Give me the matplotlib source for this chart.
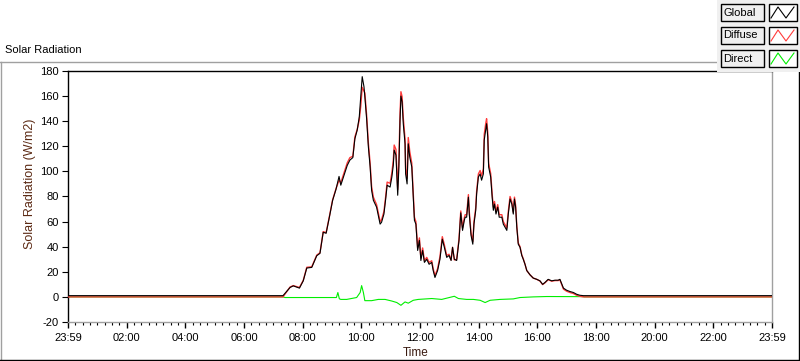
import matplotlib
matplotlib.use('Agg')
import matplotlib.pyplot as plt
from matplotlib.lines import Line2D
from matplotlib.patches import Rectangle

plt.rcParams['font.family'] = ['Liberation Sans', 'DejaVu Sans']
plt.rcParams['axes.unicode_minus'] = False

# time of day in hours (0 = 23:59 previous day, 24 = 23:59)
hours = [0, 7.33, 7.57, 7.68, 7.89, 8.02, 8.14, 8.31, 8.48, 8.59,
         8.70, 8.80, 8.91, 9.02, 9.14, 9.24, 9.30, 9.39, 9.52, 9.61,
         9.71, 9.78, 9.86, 9.93, 9.98, 10.03, 10.09, 10.12, 10.18, 10.24,
         10.30, 10.35, 10.41, 10.52, 10.64, 10.69, 10.77, 10.83, 10.88, 10.98,
         11.04, 11.09, 11.12, 11.18, 11.24, 11.28, 11.32, 11.35, 11.39, 11.43,
         11.49, 11.51, 11.56, 11.60, 11.65, 11.72, 11.77, 11.81, 11.86, 11.92,
         11.98, 12.03, 12.09, 12.15, 12.23, 12.31, 12.40, 12.45, 12.51, 12.60,
         12.68, 12.76, 12.83, 12.91, 12.99, 13.06, 13.11, 13.17, 13.25, 13.33,
         13.39, 13.45, 13.51, 13.54, 13.59, 13.65, 13.68, 13.74, 13.80, 13.84,
         13.90, 13.93, 13.99, 14.05, 14.10, 14.16, 14.19, 14.24, 14.27, 14.31,
         14.34, 14.41, 14.46, 14.50, 14.54, 14.59, 14.65, 14.70, 14.79, 14.84,
         14.90, 14.96, 15.01, 15.07, 15.13, 15.18, 15.22, 15.26, 15.30, 15.35,
         15.41, 15.47, 15.52, 15.58, 15.64, 15.75, 15.86, 15.98, 16.09, 16.18,
         16.26, 16.37, 16.49, 16.60, 16.71, 16.77, 16.83, 16.89, 17.00, 17.11,
         17.23, 17.34, 17.45, 17.57, 24]

global_rad = [1.0, 1.0, 7.5, 8.8, 7.0, 12.8, 23.0, 23.5, 32.8, 34.7,
              51.5, 50.7, 63.5, 76.8, 86.0, 96.0, 89.0, 95.5, 104.8, 109.0,
              111.0, 126.0, 133.0, 143.5, 159.0, 175.5, 167.5, 159.5, 142.0, 119.5,
              103.5, 85.0, 77.0, 71.5, 58.0, 59.5, 66.0, 78.0, 89.0, 87.5,
              95.5, 105.0, 117.0, 113.0, 81.0, 103.5, 141.0, 160.0, 155.5, 138.0,
              122.0, 98.0, 90.0, 122.0, 111.5, 103.5, 79.5, 61.0, 58.0, 37.0,
              45.0, 29.0, 37.0, 27.5, 30.0, 26.0, 27.5, 21.0, 15.5, 21.0,
              30.0, 46.0, 39.5, 31.5, 33.0, 29.0, 39.5, 30.0, 29.0, 45.0,
              67.0, 53.0, 61.0, 63.5, 63.5, 79.5, 66.0, 49.0, 42.0, 58.0,
              69.0, 82.0, 95.5, 98.0, 93.0, 98.0, 125.0, 133.5, 138.0, 127.5,
              103.5, 95.5, 79.5, 69.0, 74.0, 66.0, 71.5, 63.5, 63.5, 58.0,
              55.5, 53.0, 66.0, 78.0, 74.0, 66.0, 78.0, 71.5, 55.5, 42.0,
              39.5, 33.0, 30.0, 26.0, 21.0, 17.6, 15.0, 14.0, 12.8, 10.0,
              11.5, 14.0, 12.8, 13.3, 13.3, 14.0, 10.6, 7.0, 5.3, 4.3,
              3.5, 2.1, 1.3, 1.0, 1.0]

diffuse_rad = [0.0, 0.0, 7.9, 9.0, 7.5, 13.2, 23.6, 24.0, 33.3, 35.2,
               52.0, 51.2, 64.0, 77.3, 86.5, 93.0, 91.0, 97.5, 106.8, 111.0,
               112.0, 127.5, 133.5, 141.0, 152.0, 167.0, 164.0, 162.5, 145.0, 122.5,
               106.5, 88.0, 79.5, 73.5, 60.0, 61.5, 68.0, 80.0, 91.5, 90.5,
               98.8, 109.0, 121.0, 117.5, 85.5, 109.0, 147.0, 163.5, 159.5, 142.5,
               126.0, 102.0, 94.5, 127.0, 116.0, 106.5, 82.2, 63.5, 60.0, 39.0,
               47.0, 31.0, 39.0, 29.0, 31.5, 27.5, 28.8, 22.5, 17.0, 22.5,
               32.0, 48.0, 41.5, 33.0, 34.0, 29.5, 39.5, 29.5, 30.0, 46.3,
               68.5, 55.0, 63.0, 65.5, 65.5, 81.5, 68.0, 51.0, 44.0, 60.0,
               71.0, 84.0, 98.0, 100.7, 96.5, 102.0, 129.5, 138.0, 142.0, 131.0,
               106.5, 98.2, 82.0, 71.5, 76.0, 68.0, 73.5, 65.5, 65.5, 60.0,
               57.5, 55.0, 68.0, 80.0, 75.8, 67.6, 79.5, 73.0, 56.5, 43.0,
               40.0, 33.5, 30.5, 26.0, 21.0, 17.6, 15.0, 14.0, 12.6, 9.8,
               11.2, 13.7, 12.5, 13.0, 13.0, 13.6, 10.0, 6.2, 4.5, 3.5,
               2.7, 1.3, 0.5, 0.0, 0.0]

direct_hours = [0, 7.33, 7.40, 9.15, 9.20, 9.25, 9.30, 9.50, 9.84, 9.96,
                10.01, 10.07, 10.12, 10.35, 10.58, 10.81, 11.04, 11.21, 11.35, 11.49,
                11.60, 11.77, 11.94, 12.40, 12.74, 13.17, 13.31, 13.59, 13.82, 14.05,
                14.22, 14.39, 14.73, 15.18, 15.41, 15.86, 16.32, 17.57, 17.60, 24]
direct_rad = [0, 0, -0.5, -0.5, 3.5, -1.5, -2.0, -2.0, -0.5, 3.5,
              9.0, 3.5, -3.0, -3.0, -2.0, -2.0, -3.3, -4.5, -6.7, -4.0,
              -5.0, -2.7, -2.0, -1.3, -2.0, 0.5, -1.3, -2.0, -2.0, -2.7,
              -4.5, -2.7, -2.0, -1.6, -0.5, 0.0, 0.3, 0.2, 0, 0]

x_labels = ['23:59', '02:00', '04:00', '06:00', '08:00', '10:00', '12:00',
            '14:00', '16:00', '18:00', '20:00', '22:00', '23:59']
y_ticks = [-20, 0, 20, 40, 60, 80, 100, 120, 140, 160, 180]
series_names = ['Global', 'Diffuse', 'Direct']
series_colors = ['black', '#ff3b3b', '#00ee00']

W, H = 800, 361
fig = plt.figure(figsize=(8, 3.61), dpi=100)


def fx(x):
    return x / W


def fy(y):
    return 1 - y / H


def fig_line(xs, ys, color, lw=1.0, z=5):
    fig.add_artist(Line2D([fx(x) for x in xs], [fy(y) for y in ys],
                          color=color, lw=lw, transform=fig.transFigure,
                          zorder=z))


ax = fig.add_axes([fx(68), fy(322), 704 / W, 251 / H])

ax.plot(direct_hours, direct_rad, color=series_colors[2], lw=0.8, zorder=2)
ax.plot(hours, diffuse_rad, color=series_colors[1], lw=1.0, zorder=3)
ax.plot(hours, global_rad, color=series_colors[0], lw=0.8, zorder=4)

ax.set_xlim(0, 24)
ax.set_ylim(-20, 180)
ax.set_xticks(range(0, 25, 2))
ax.set_xticklabels(x_labels)
ax.set_xticks([i * 0.25 for i in range(97)], minor=True)
ax.set_yticks(y_ticks)
ax.set_yticklabels([str(v) for v in y_ticks])
ax.tick_params(axis='x', which='major', direction='out', length=4,
               width=1, pad=4, labelsize=8)
ax.tick_params(axis='x', which='minor', direction='out', length=2.2, width=0.8)
ax.tick_params(axis='y', direction='out', length=4.5, width=0.8, pad=2,
               labelsize=8)

for side in ['top', 'left']:
    ax.spines[side].set_color('black')
    ax.spines[side].set_linewidth(1.0)
for side in ['right', 'bottom']:
    ax.spines[side].set_color('#a0a0a0')
    ax.spines[side].set_linewidth(1.0)

fig.text(fx(30), fy(184), 'Solar Radiation (W/m2)', rotation=90,
         ha='center', va='center', fontsize=9, color='#5c2a14')
fig.text(fx(416), fy(353), 'Time', ha='center', va='center', fontsize=8.5,
         color='#3a1a10')
fig.text(fx(5), fy(50), 'Solar Radiation', ha='left', va='center', fontsize=8)

# outer frame
fig_line([0, 718], [61.5, 61.5], '#a0a0a0')
fig_line([0.7, 0.7], [61.5, 361], '#a0a0a0')
fig_line([0, 800], [360.3, 360.3], 'black')
fig_line([799.3, 799.3], [72, 361], 'black')

# legend panel
fig.add_artist(Rectangle((fx(717), fy(72)), 83 / W, 72 / H,
                         transform=fig.transFigure, facecolor='#f0f0f0',
                         edgecolor='none', zorder=6))
row_tops = [4, 27, 50]
for name, color, top in zip(series_names, series_colors, row_tops):
    fig.add_artist(Rectangle((fx(720.5), fy(top + 16.5)), 43 / W, 16.5 / H,
                             transform=fig.transFigure, facecolor='#f0f0f0',
                             edgecolor='black', lw=1.0, zorder=7))
    fig.text(fx(723), fy(top + 8.5), name, ha='left', va='center',
             fontsize=8, zorder=8)
    fig.add_artist(Rectangle((fx(768.5), fy(top + 16.5)), 28 / W, 16.5 / H,
                             transform=fig.transFigure, facecolor='white',
                             edgecolor='black', lw=1.0, zorder=7))
    fig_line([771, 778, 786, 794], [top + 14, top + 3, top + 14, top + 3],
             color, lw=0.8, z=8)

fig.savefig('out.png', dpi=100, facecolor='white')
